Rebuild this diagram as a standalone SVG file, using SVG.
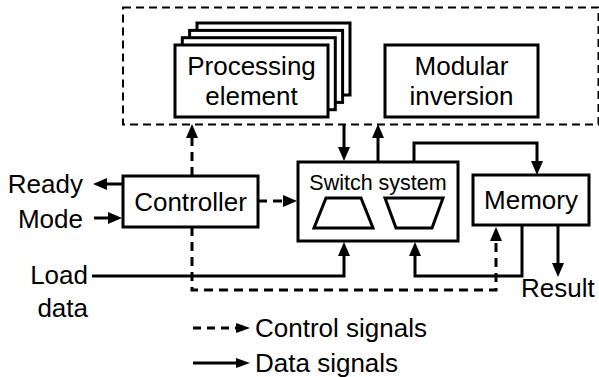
<svg xmlns="http://www.w3.org/2000/svg" width="599" height="377" viewBox="0 0 599 377">
  <defs>
    <marker id="ah" markerUnits="userSpaceOnUse" markerWidth="14" markerHeight="12" refX="8" refY="6" orient="auto">
      <path d="M0,0 L14,6 L0,12 z" fill="#000"/>
    </marker>
    <marker id="ahs" markerUnits="userSpaceOnUse" markerWidth="14" markerHeight="10" refX="7" refY="5" orient="auto">
      <path d="M0,0 L14,5 L0,10 z" fill="#000"/>
    </marker>
  </defs>
  <style>
    .box { fill: #fff; stroke: #000; stroke-width: 3; }
    .grp { fill: none; stroke: #000; stroke-width: 2; stroke-dasharray: 8 5; }
    .t { font-family: "Liberation Sans", Arial, sans-serif; font-size: 26px; fill: #000; }
    .ts { font-family: "Liberation Sans", Arial, sans-serif; font-size: 21.5px; fill: #000; }
    .data { fill: none; stroke: #000; stroke-width: 3; }
    .ctrl { fill: none; stroke: #000; stroke-width: 3; stroke-dasharray: 9 6; }
    .arr { marker-end: url(#ah); }
    .arrs { marker-end: url(#ahs); }
  </style>
  <rect width="599" height="377" fill="#fff"/>

  <g id="group-box">
    <rect class="grp" x="123" y="7.5" width="475.5" height="117" stroke-opacity="1"/>
  </g>

  <g id="processing-element">
    <rect class="box" x="197" y="23" width="153" height="72"/>
    <rect class="box" x="189.6" y="30.4" width="153" height="72"/>
    <rect class="box" x="182.3" y="37.7" width="153" height="72"/>
    <rect class="box" x="175" y="45" width="153" height="72"/>
    <text class="t" x="251.5" y="75" text-anchor="middle">Processing</text>
    <text class="t" x="251.5" y="105" text-anchor="middle">element</text>
  </g>

  <g id="modular-inversion">
    <rect class="box" x="385" y="45" width="153" height="72"/>
    <text class="t" x="461.5" y="75" text-anchor="middle">Modular</text>
    <text class="t" x="461.5" y="105" text-anchor="middle">inversion</text>
  </g>

  <g id="controller">
    <rect class="box" x="123" y="176" width="135" height="51"/>
    <text class="t" x="190.5" y="211" text-anchor="middle">Controller</text>
  </g>

  <g id="switch-system">
    <rect class="box" x="298" y="162" width="160" height="79"/>
    <text class="ts" x="378" y="190" text-anchor="middle">Switch system</text>
    <polygon points="326,198 361,198 373,228 314,228" fill="none" stroke="#000" stroke-width="3" stroke-linejoin="miter"/>
    <polygon points="385,198 443,198 432,228 396,228" fill="none" stroke="#000" stroke-width="3" stroke-linejoin="miter"/>
  </g>

  <g id="memory">
    <rect class="box" x="473" y="175" width="116" height="50"/>
    <text class="t" x="531" y="209" text-anchor="middle">Memory</text>
  </g>

  <g id="labels">
    <text class="t" x="83" y="193" text-anchor="end">Ready</text>
    <text class="t" x="83" y="228" text-anchor="end">Mode</text>
    <text class="t" x="88" y="284" text-anchor="end">Load</text>
    <text class="t" x="88" y="317" text-anchor="end">data</text>
    <text class="t" x="521" y="297">Result</text>
  </g>

  <g id="connectors">
    <path class="ctrl arr" d="M258,201 H291"/>
    <path class="ctrl arr" d="M192,176 V130"/>
    <path class="ctrl arr" d="M192,227 V290 H496 V233"/>
    <path class="data arr" d="M123,184 H99"/>
    <path class="data arr" d="M94,218 H116"/>
    <path class="data arr" d="M344,124 V155"/>
    <path class="data arr" d="M378,162 V130"/>
    <path class="data arr" d="M414,162 V143 H537 V169"/>
    <path class="data arr" d="M92,276 H344 V248"/>
    <path class="data arr" d="M522,225 V276 H415 V248"/>
    <path class="data arr" d="M558,225 V271"/>
  </g>

  <g id="legend">
    <path class="arrs" d="M193,328 H243" fill="none" stroke="#000" stroke-width="3" stroke-dasharray="8 6"/>
    <text class="t" x="255" y="337">Control signals</text>
    <path class="data arrs" d="M193,363 H243"/>
    <text class="t" x="255" y="372">Data signals</text>
  </g>
</svg>
